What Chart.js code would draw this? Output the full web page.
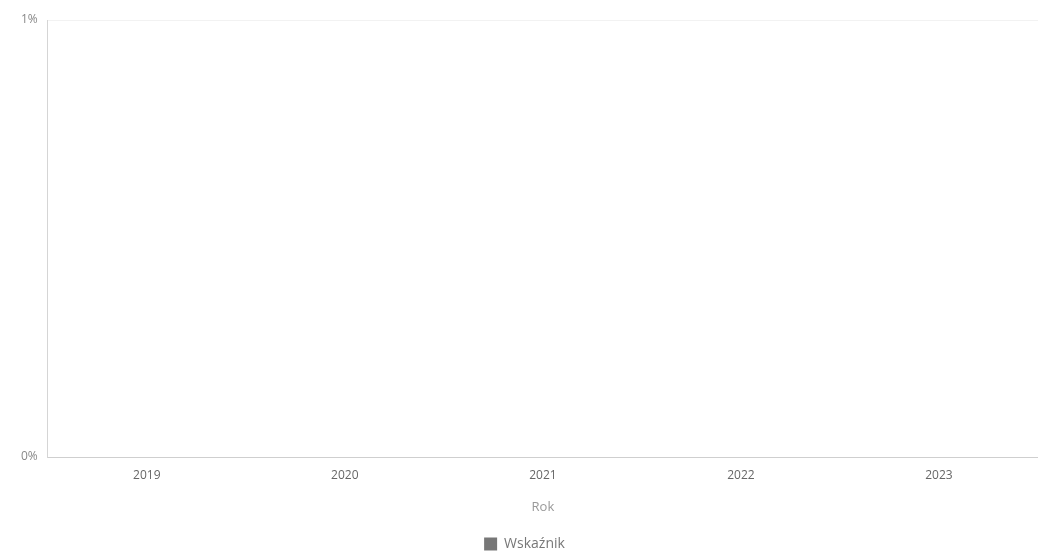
<!DOCTYPE html>
<html>
<head>
<meta charset="utf-8">
<script src="https://cdn.jsdelivr.net/npm/chart.js@4/dist/chart.umd.min.js"></script>
<style>
html,body{margin:0;padding:0;background:#fff;}
#wrap{position:relative;width:1038px;height:553px;}
</style>
</head>
<body>
<div id="wrap"><canvas id="c"></canvas></div>
<script>
const categories = ["2019", "2020", "2021", "2022", "2023"];
const seriesName = "Wskaźnik";
const seriesValues = [0, 0, 0, 0, 0];
const yTicks = [0, 1];

new Chart(document.getElementById('c'), {
  type: 'bar',
  data: {
    labels: categories,
    datasets: [{
      label: seriesName,
      data: seriesValues,
      backgroundColor: '#777777',
      borderWidth: 0
    }]
  },
  options: {
    responsive: true,
    maintainAspectRatio: false,
    animation: false,
    layout: { padding: { top: 20, right: 0, left: 11, bottom: -8 } },
    plugins: {
      legend: {
        position: 'bottom',
        labels: { boxWidth: 13, boxHeight: 13, color: '#777', font: { family: 'Open Sans', size: 14 }, padding: 2 }
      },
      tooltip: { enabled: false }
    },
    scales: {
      x: {
        grid: { display: false },
        border: { color: '#cfcfcf' },
        ticks: { color: '#666', font: { family: 'Open Sans', size: 12 }, padding: 3 },
        title: { display: true, text: 'Rok', color: '#999', font: { family: 'Open Sans', size: 13 }, padding: { top: 14, bottom: 20 } }
      },
      y: {
        min: 0,
        max: 1,
        afterBuildTicks: (axis) => { axis.ticks = yTicks.map(v => ({ value: v })); },
        grid: { color: '#f2f2f2', drawTicks: false },
        border: { color: '#d5d5d5' },
        ticks: { color: '#888', font: { family: 'Open Sans', size: 12 }, padding: 10, callback: v => v + '%' }
      }
    }
  }
});
</script>
</body>
</html>
